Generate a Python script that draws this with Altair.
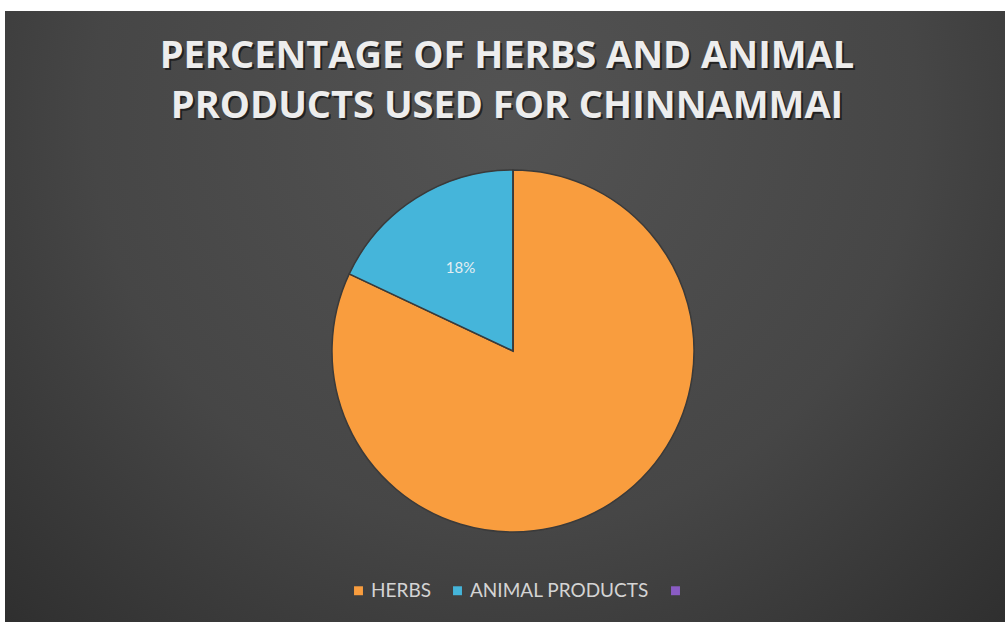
import altair as alt
import pandas as pd

categories = ["HERBS", "ANIMAL PRODUCTS", "OTHER"]
values = [82, 18, 0]
orders = [1, 2, 3]
colors = ["#f99d3e", "#45b5da", "#8a5cc4"]
title_lines = ["PERCENTAGE OF HERBS AND ANIMAL", "PRODUCTS USED FOR CHINNAMMAI"]

df = pd.DataFrame({"category": categories, "value": values, "order": orders})
bg_df = pd.DataFrame({"k": [0]})

W, H = 1000, 611
CX, CY = 508, 340

bg = alt.Chart(bg_df).mark_rect(
    color=alt.Gradient(
        gradient="radial",
        x1=0.5, y1=0.3, x2=0.5, y2=0.3, r1=0, r2=0.75,
        stops=[alt.GradientStop(color="#535353", offset=0),
               alt.GradientStop(color="#464646", offset=0.55),
               alt.GradientStop(color="#2c2c2c", offset=1)],
    )
).encode(x=alt.value(0), x2=alt.value(W), y=alt.value(0), y2=alt.value(H))

pie = alt.Chart(df).mark_arc(radius=181, stroke="#3a3a3a", strokeWidth=1.5).encode(
    theta=alt.Theta("value:Q", stack=True),
    color=alt.Color(
        "category:N",
        scale=alt.Scale(domain=categories, range=colors),
        sort=categories,
        legend=alt.Legend(
            title=None, orient="none", direction="horizontal",
            legendX=344, legendY=570,
            symbolType="square", symbolSize=80, symbolStrokeWidth=0,
            labelFont="Lato", labelFontSize=19, labelColor="#d4d4d4",
            labelLimit=400, columnPadding=17, labelOffset=3,
            labelExpr="datum.label == 'OTHER' ? '' : datum.label",
        ),
    ),
    order=alt.Order("order:Q"),
    x=alt.value(CX), y=alt.value(CY),
)

labels = alt.Chart(df).transform_calculate(
    label="datum.category == 'ANIMAL PRODUCTS' ? format(datum.value, 'd') + '%' : ''"
).mark_text(radius=98, font="Lato", fontSize=15, color="#e4eef2").encode(
    theta=alt.Theta("value:Q", stack=True),
    order=alt.Order("order:Q"),
    text="label:N",
    x=alt.value(CX), y=alt.value(CY),
)

shadow = alt.Chart(bg_df).mark_text(
    font="Open Sans", fontSize=38, fontWeight="bold", color="#000000", opacity=0.55,
    lineHeight=50, baseline="alphabetic", align="center",
).encode(text=alt.value(title_lines), x=alt.value(504), y=alt.value(59))

title = alt.Chart(bg_df).mark_text(
    font="Open Sans", fontSize=38, fontWeight="bold", color="#ededed",
    lineHeight=50, baseline="alphabetic", align="center",
).encode(text=alt.value(title_lines), x=alt.value(502), y=alt.value(57))

chart = alt.layer(bg, shadow, title, pie, labels).properties(
    width=W, height=H,
    autosize=alt.AutoSizeParams(type="none"),
    padding={"left": 5, "top": 11, "right": 0, "bottom": 0},
    background="#ffffff",
).configure_view(stroke=None)

chart.save("out.html", embed_options={"renderer": "svg", "actions": False})
